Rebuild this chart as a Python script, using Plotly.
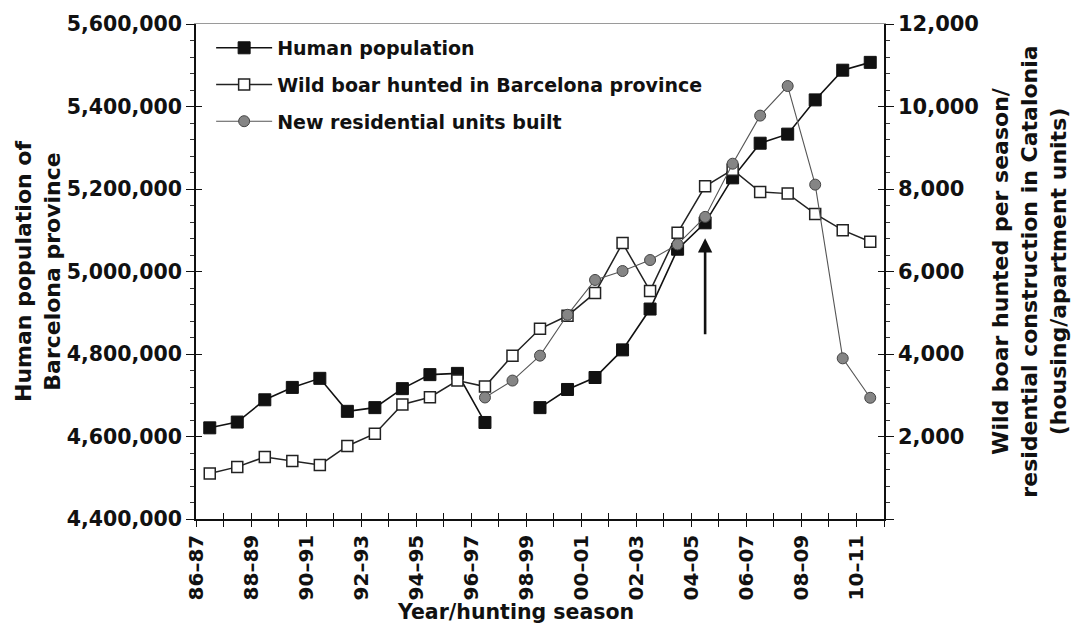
import plotly.graph_objects as go

# ---------------- data ----------------
seasons = ["86–87", "87–88", "88–89", "89–90", "90–91", "91–92", "92–93", "93–94",
           "94–95", "95–96", "96–97", "97–98", "98–99", "99–00", "00–01", "01–02",
           "02–03", "03–04", "04–05", "05–06", "06–07", "07–08", "08–09", "09–10",
           "10–11"]

human_population = [4621000, 4635000, 4689000, 4719000, 4741000, 4661000, 4670000,
                    4716000, 4750000, 4753000, 4634000, None, 4670000, 4714000,
                    4743000, 4810000, 4909000, 5054000, 5118000, 5227000, 5311000,
                    5333000, 5416000, 5488000, 5507000]

wild_boar_hunted = [1103, 1263, 1504, 1408, 1311, 1770, 2069, 2777, 2953, 3356, 3211,
                    3960, 4612, 4926, 5481, 6688, 5529, 6937, 8065, 8468, 7927, 7888,
                    7396, 7002, 6720]

new_residential = [None, None, None, None, None, None, None, None, None, None, 2946,
                   3356, 3960, 4950, 5795, 6012, 6278, 6657, 7324, 8613, 9779, 10496,
                   8106, 3895, 2939]

left_ticks = [4400000, 4600000, 4800000, 5000000, 5200000, 5400000, 5600000]
right_ticks = [0, 2000, 4000, 6000, 8000, 10000, 12000]
arrow_season = "04–05"
arrow_from, arrow_to = 4443, 6809

# ---------------- positions ----------------
n = len(seasons)
xpos = [i + 0.5 for i in range(n)]          # points sit in the middle of each season
tick_pos = list(range(n + 1))                # ticks at season boundaries
tick_text = [seasons[i] if (i < n and i % 2 == 0) else "" for i in tick_pos]

FONT = "DejaVu Sans"
BLACK = "#111111"

fig = go.Figure()

fig.add_trace(go.Scatter(
    x=xpos, y=human_population, name="Human population", mode="lines+markers",
    line=dict(color=BLACK, width=1.6), connectgaps=False,
    marker=dict(symbol="square", size=12, color=BLACK, line=dict(color=BLACK, width=1)),
    legendgroup="a", yaxis="y"))

fig.add_trace(go.Scatter(
    x=xpos, y=wild_boar_hunted, name="Wild boar hunted in Barcelona province",
    mode="lines+markers", line=dict(color="#222222", width=1.5),
    marker=dict(symbol="square", size=11, color="white", line=dict(color="#222222", width=1.5)),
    legendgroup="b", yaxis="y2"))

fig.add_trace(go.Scatter(
    x=xpos, y=new_residential, name="New residential units built",
    mode="lines+markers", line=dict(color="#555555", width=1.1),
    marker=dict(symbol="circle", size=11, color="#858585", line=dict(color="#444444", width=1)),
    legendgroup="c", yaxis="y2"))

# helper traces so the overlay axes (crossing ticks, top frame) are rendered
for xa, ya in [("x3", "y"), ("x4", "y"), ("x", "y3"), ("x", "y4")]:
    fig.add_trace(go.Scatter(x=[0], y=[4400000 if ya in ("y", "y3") else 0],
                             mode="lines", xaxis=xa, yaxis=ya, showlegend=False,
                             hoverinfo="skip", line=dict(width=0)))

tickfont = dict(family=FONT, size=20.5, color=BLACK, weight="bold")
titlefont = dict(family=FONT, size=22, color=BLACK, weight="bold")

arrow_x = seasons.index(arrow_season) + 0.5
fig.add_annotation(
    x=arrow_x, y=arrow_to, xref="x", yref="y2",
    ax=arrow_x, ay=arrow_from, axref="x", ayref="y2",
    text="", showarrow=True, arrowhead=2, arrowsize=1.1, arrowwidth=2.6,
    arrowcolor=BLACK, standoff=0)

# x-axis title (placed slightly left of centre, as in the original)
fig.add_annotation(
    text="Year/hunting season", xref="paper", yref="paper", x=0.4638, y=-0.187,
    xanchor="center", yanchor="middle", showarrow=False,
    font=dict(family=FONT, size=20.5, color=BLACK, weight="bold"))

fig.update_layout(
    width=1079, height=630,
    margin=dict(l=196, r=193, t=22, b=111),
    paper_bgcolor="white", plot_bgcolor="white",
    showlegend=True,
    legend=dict(x=0.022, y=0.99, xanchor="left", yanchor="top",
                bgcolor="rgba(0,0,0,0)", tracegroupgap=9, itemwidth=56,
                font=dict(family=FONT, size=19, color=BLACK, weight="bold")),
    xaxis=dict(range=[0, n], tickmode="array", tickvals=tick_pos, ticktext=tick_text,
               tickangle=-90, ticks="outside", ticklen=6, tickwidth=1.3, tickcolor=BLACK,
               showline=True, linecolor=BLACK, linewidth=1.5, showgrid=False,
               zeroline=False, tickfont=dict(family=FONT, size=20, color=BLACK, weight="bold")),
    xaxis3=dict(range=[0, n], overlaying="x", anchor="y", side="bottom",
                tickmode="array", tickvals=tick_pos, ticks="inside", ticklen=6,
                tickwidth=1.3, tickcolor=BLACK, showticklabels=False, showline=False,
                showgrid=False, zeroline=False),
    xaxis4=dict(range=[0, n], overlaying="x", anchor="y", side="top",
                showline=True, linecolor="#9a9a9a", linewidth=1, ticks="",
                showticklabels=False, showgrid=False, zeroline=False),
    yaxis=dict(range=[left_ticks[0], left_ticks[-1]], tickmode="array", tickvals=left_ticks,
               tickformat=",", ticks="outside", ticklen=8, tickwidth=1.3, tickcolor=BLACK,
               minor=dict(dtick=40000, ticks="outside", ticklen=4, tickcolor="#333333",
                          tickwidth=1),
               showline=True, linecolor=BLACK, linewidth=1.5, showgrid=False,
               zeroline=False, tickfont=tickfont,
               title=dict(text="Human population of<br>Barcelona province", font=titlefont,
                          standoff=0)),
    yaxis2=dict(range=[right_ticks[0], right_ticks[-1]], overlaying="y", side="right",
                anchor="x", tickmode="array", tickvals=right_ticks,
                ticktext=["" if v == 0 else f"{v:,}" for v in right_ticks],
                ticks="outside", ticklen=8, tickwidth=1.3, tickcolor=BLACK,
                minor=dict(dtick=400, ticks="outside", ticklen=4, tickcolor="#333333",
                           tickwidth=1),
                showline=True, linecolor=BLACK, linewidth=1.5, showgrid=False,
                zeroline=False, tickfont=dict(family=FONT, size=21, color=BLACK, weight="bold"),
                title=dict(text="Wild boar hunted per season/<br>residential construction in Catalonia<br>(housing/apartment units)",
                           font=titlefont)),
    yaxis3=dict(range=[left_ticks[0], left_ticks[-1]], overlaying="y", side="left",
                anchor="x", tickmode="array", tickvals=left_ticks, ticks="inside",
                ticklen=6, tickwidth=1.3, tickcolor=BLACK, showticklabels=False,
                showline=False, showgrid=False, zeroline=False),
    yaxis4=dict(range=[right_ticks[0], right_ticks[-1]], overlaying="y", side="right",
                anchor="x", tickmode="array", tickvals=right_ticks, ticks="inside",
                ticklen=6, tickwidth=1.3, tickcolor=BLACK, showticklabels=False,
                showline=False, showgrid=False, zeroline=False),
)

fig.write_html("out.html", config={"displayModeBar": False},
               post_script="document.body.style.margin='0px';")
